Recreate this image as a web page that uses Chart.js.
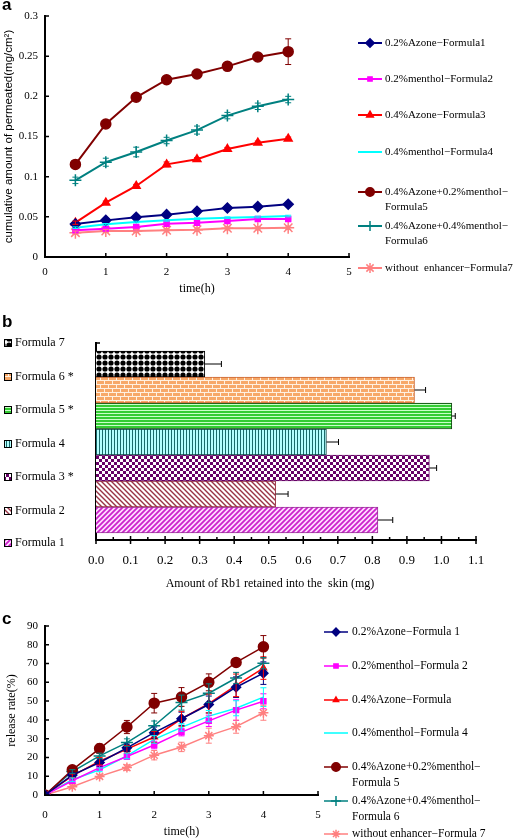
<!DOCTYPE html>
<html>
<head>
<meta charset="utf-8">
<title>Permeation and retention</title>
<script src="https://cdn.jsdelivr.net/npm/chart.js@4.4.1/dist/chart.umd.min.js"></script>
<style>
  html, body { margin: 0; padding: 0; background: #fff; }
  #page { position: relative; width: 520px; height: 840px; overflow: hidden; }
  #page canvas { position: absolute; left: 0; }
  .tag { position: absolute; left: 2px; font: bold 17px "Liberation Sans", Arial, sans-serif; line-height: 1; }
</style>
</head>
<body>
<div id="page">
  <canvas id="chartA" width="520" height="300" style="top:0"></canvas>
  <canvas id="chartB" width="520" height="300" style="top:300px"></canvas>
  <canvas id="chartC" width="520" height="240" style="top:600px"></canvas>
  <div class="tag" style="top:-4px">a</div>
  <div class="tag" style="top:313px">b</div>
  <div class="tag" style="top:610px">c</div>
</div>
<script>
// ---- panel a: cumulative amount permeated (mg/cm2) ----
const timesA = [0.5, 1, 1.5, 2, 2.5, 3, 3.5, 4];
const f1A = [0.041, 0.0456, 0.0494, 0.0527, 0.0568, 0.061, 0.0627, 0.0656];
const f2A = [0.0332, 0.0353, 0.0373, 0.0415, 0.0427, 0.0448, 0.0473, 0.0473];
const f3A = [0.0427, 0.0676, 0.0884, 0.1153, 0.1216, 0.1344, 0.1423, 0.1473];
const f4A = [0.0365, 0.0407, 0.0436, 0.0456, 0.0477, 0.049, 0.0498, 0.051];
const f5A = [0.1153, 0.1656, 0.1988, 0.2207, 0.2278, 0.2373, 0.249, 0.2556];
const f6A = [0.0954, 0.118, 0.1307, 0.145, 0.158, 0.176, 0.1876, 0.196];
const f7A = [0.0303, 0.0324, 0.0324, 0.0332, 0.034, 0.0357, 0.0357, 0.0365];
const f1ErrA = [0.001, 0.001, 0.001, 0.001, 0.001, 0.001, 0.001, 0.001];
const f2ErrA = [0.001, 0.001, 0.001, 0.001, 0.001, 0.001, 0.001, 0.001];
const f3ErrA = [0.002, 0.002, 0.002, 0.003, 0.002, 0.002, 0.002, 0.002];
const f4ErrA = [0.001, 0.001, 0.001, 0.001, 0.001, 0.001, 0.001, 0.001];
const f5ErrA = [0.002, 0.002, 0.002, 0.002, 0.002, 0.003, 0.004, 0.016];
const f6ErrA = [0.004, 0.005, 0.006, 0.004, 0.005, 0.004, 0.004, 0.004];
const f7ErrA = [0.002, 0.002, 0.002, 0.002, 0.002, 0.002, 0.002, 0.002];
const legendA = [
  ['0.2%Azone−Formula1'],
  ['0.2%menthol−Formula2'],
  ['0.4%Azone−Formula3'],
  ['0.4%menthol−Formula4'],
  ['0.4%Azone+0.2%menthol−', 'Formula5'],
  ['0.4%Azone+0.4%menthol−', 'Formula6'],
  ['without  enhancer−Formula7']
];

// ---- panel b: amount of Rb1 retained (mg) ----
const formulasB = ['Formula 1', 'Formula 2', 'Formula 3', 'Formula 4', 'Formula 5', 'Formula 6', 'Formula 7'];
const legendB = ['Formula 1', 'Formula 2', 'Formula 3 *', 'Formula 4', 'Formula 5 *', 'Formula 6 *', 'Formula 7'];
const retainedB = [0.816, 0.520, 0.965, 0.667, 1.030, 0.922, 0.315];
const retainedErrB = [0.043, 0.036, 0.021, 0.035, 0.010, 0.032, 0.048];

// ---- panel c: release rate (%) ----
const timesC = [0, 0.5, 1, 1.5, 2, 2.5, 3, 3.5, 4];
const f1C = [0, 10.6, 17.3, 25.1, 33.2, 40.6, 48.2, 57.4, 64.9];
const f2C = [0, 7.6, 14.6, 20.5, 26.6, 33.5, 39.5, 45.2, 49.9];
const f3C = [0, 10.2, 18.0, 24.4, 30.9, 40.6, 48.7, 58.4, 67.6];
const f4C = [0, 8.1, 13.4, 20.8, 29.6, 36.0, 42.0, 46.2, 52.1];
const f5C = [0, 13.4, 24.7, 36.2, 48.9, 52.2, 60.0, 70.6, 78.9];
const f6C = [0, 12.5, 20.8, 27.9, 36.9, 49.2, 54.2, 62.3, 70.2];
const f7C = [0, 4.4, 9.9, 14.6, 21.2, 25.6, 31.6, 36.4, 43.8];
const f1ErrC = [0, 1, 2, 2, 3, 3.5, 4.5, 5.5, 6];
const f2ErrC = [0, 1, 1, 1.5, 2, 2, 3, 5.5, 4];
const f3ErrC = [0, 1, 2, 2, 3, 4, 5, 6, 6];
const f4ErrC = [0, 1, 1, 1.5, 2, 2, 3, 4, 5];
const f5ErrC = [0, 1, 2.5, 3.5, 5.2, 5, 4.5, 1.5, 6];
const f6ErrC = [0, 1, 1.5, 2, 2.5, 4, 5, 3, 3];
const f7ErrC = [0, 1, 1, 1.5, 2.5, 2.5, 4, 3.5, 4];
const legendC = [
  ['0.2%Azone−Formula 1'],
  ['0.2%menthol−Formula 2'],
  ['0.4%Azone−Formula'],
  ['0.4%menthol−Formula 4'],
  ['0.4%Azone+0.2%menthol−', 'Formula 5'],
  ['0.4%Azone+0.4%menthol−', 'Formula 6'],
  ['without enhancer−Formula 7']
];

const SERIF = '"Liberation Serif", "Times New Roman", serif';
const SANS = '"Liberation Sans", Arial, sans-serif';
const AXIS = { color: '#000', width: 2 };
const NOGRID = { display: false, drawTicks: false, tickLength: 0 };

// one line series with markers and error values
const lineSet = (label, xs, ys, errs, color, style, radius, width) => ({
  label,
  data: xs.map((x, i) => ({ x, y: ys[i] })),
  errors: errs,
  borderColor: color,
  backgroundColor: color,
  pointBackgroundColor: color,
  pointBorderColor: color,
  pointStyle: style,
  pointRadius: radius,
  pointBorderWidth: 1.5,
  borderWidth: width,
  tension: 0
});

// error bars drawn through the value scale
const errorBars = {
  id: 'errorBars',
  afterDatasetsDraw(chart, args, opts) {
    const ctx = chart.ctx;
    const horizontal = chart.options.indexAxis === 'y';
    const vScale = horizontal ? chart.scales.x : chart.scales.y;
    chart.data.datasets.forEach((ds, di) => {
      if (!ds.errors) return;
      const meta = chart.getDatasetMeta(di);
      ctx.save();
      ctx.strokeStyle = opts.color || ds.borderColor;
      ctx.lineWidth = opts.lineWidth || 1;
      ctx.beginPath();
      meta.data.forEach((el, i) => {
        const err = ds.errors[i];
        if (!err) return;
        const v = horizontal ? ds.data[i].x : ds.data[i].y;
        const lo = vScale.getPixelForValue(opts.oneSided ? v : v - err);
        const hi = vScale.getPixelForValue(v + err);
        const c = opts.cap;
        if (horizontal) {
          ctx.moveTo(lo, el.y); ctx.lineTo(hi, el.y);
          ctx.moveTo(hi, el.y - c); ctx.lineTo(hi, el.y + c);
        } else {
          ctx.moveTo(el.x, lo); ctx.lineTo(el.x, hi);
          ctx.moveTo(el.x - c, lo); ctx.lineTo(el.x + c, lo);
          ctx.moveTo(el.x - c, hi); ctx.lineTo(el.x + c, hi);
        }
      });
      ctx.stroke();
      ctx.restore();
    });
  }
};

// short tick marks on the axes (inside / crossing)
const axisTicks = {
  id: 'axisTicks',
  afterDraw(chart, args, opts) {
    const ctx = chart.ctx, xs = chart.scales.x, ys = chart.scales.y, area = chart.chartArea;
    ctx.save();
    ctx.strokeStyle = '#000';
    ctx.lineWidth = opts.width;
    ctx.beginPath();
    xs.ticks.forEach((t, i) => {
      const px = xs.getPixelForTick(i);
      ctx.moveTo(px, area.bottom + (opts.xDown || 0));
      ctx.lineTo(px, area.bottom - opts.xUp);
      if (opts.xMinor && i < xs.ticks.length - 1) {
        const mx = (px + xs.getPixelForTick(i + 1)) / 2;
        ctx.moveTo(mx, area.bottom);
        ctx.lineTo(mx, area.bottom - opts.xMinor);
      }
    });
    if (opts.yIn) {
      ys.ticks.forEach((t, i) => {
        const py = ys.getPixelForTick(i);
        ctx.moveTo(area.left, py);
        ctx.lineTo(area.left + opts.yIn, py);
      });
    }
    if (opts.yTopStub) {
      ctx.moveTo(area.left, area.top);
      ctx.lineTo(area.left + opts.yTopStub, area.top);
    }
    ctx.stroke();
    ctx.restore();
  }
};

// legend with line + marker samples, placed on the right
const lineLegend = {
  id: 'lineLegend',
  afterDraw(chart, args, opts) {
    const ctx = chart.ctx;
    chart.data.datasets.forEach((ds, i) => {
      const y = opts.rows[i];
      ctx.save();
      ctx.strokeStyle = ds.borderColor;
      ctx.lineWidth = ds.borderWidth;
      ctx.beginPath();
      ctx.moveTo(opts.x0, y);
      ctx.lineTo(opts.x1, y);
      ctx.stroke();
      if (ds.pointRadius) {
        ctx.fillStyle = ds.pointBackgroundColor;
        ctx.lineWidth = ds.pointBorderWidth;
        Chart.helpers.drawPoint(ctx, {
          pointStyle: ds.pointStyle, rotation: 0,
          radius: ds.pointRadius * opts.markerScale, borderWidth: ds.pointBorderWidth
        }, (opts.x0 + opts.x1) / 2, y);
      }
      ctx.fillStyle = '#000';
      ctx.font = opts.font;
      ctx.textBaseline = 'middle';
      ctx.textAlign = 'left';
      opts.texts[i].forEach((line, j) => ctx.fillText(line, opts.tx, y + j * opts.lineGap));
      ctx.restore();
    });
  }
};

// pattern-box legend for the bar panel plus its axis caption
const boxLegend = {
  id: 'boxLegend',
  afterDraw(chart, args, opts) {
    const ctx = chart.ctx, ds = chart.data.datasets[0];
    ctx.save();
    ctx.font = opts.font;
    ctx.textBaseline = 'middle';
    ctx.textAlign = 'left';
    opts.order.forEach((idx, k) => {
      const y = opts.rows[k];
      ctx.fillStyle = ds.backgroundColor[idx];
      ctx.fillRect(4, y - 4, 8, 8);
      ctx.strokeStyle = '#000';
      ctx.lineWidth = 1;
      ctx.strokeRect(4.5, y - 3.5, 7, 7);
      ctx.fillStyle = '#000';
      ctx.fillText(opts.texts[idx], 15, y);
    });
    ctx.font = opts.titleFont;
    ctx.textAlign = 'center';
    ctx.fillText(opts.title, opts.titleX, opts.titleY);
    ctx.restore();
  }
};

// ---- hatch patterns for panel b ----
const ctxB = document.getElementById('chartB').getContext('2d');
const makePattern = (w, h, draw) => {
  const tile = document.createElement('canvas');
  tile.width = w; tile.height = h;
  draw(tile.getContext('2d'));
  return ctxB.createPattern(tile, 'repeat');
};
const patternsB = [
  makePattern(5, 5, g => { // Formula 1: magenta "/"
    g.fillStyle = '#ffdcff'; g.fillRect(0, 0, 5, 5);
    g.strokeStyle = '#cc22cc'; g.lineWidth = 1.8; g.beginPath();
    g.moveTo(-1, 6); g.lineTo(6, -1); g.moveTo(-1, 1); g.lineTo(1, -1); g.moveTo(4, 6); g.lineTo(6, 4);
    g.stroke();
  }),
  makePattern(5, 5, g => { // Formula 2: brown "\"
    g.fillStyle = '#ffffff'; g.fillRect(0, 0, 5, 5);
    g.strokeStyle = '#993344'; g.lineWidth = 1.4; g.beginPath();
    g.moveTo(-1, -1); g.lineTo(6, 6); g.moveTo(4, -1); g.lineTo(6, 1); g.moveTo(-1, 4); g.lineTo(1, 6);
    g.stroke();
  }),
  makePattern(6, 6, g => { // Formula 3: purple checks
    g.fillStyle = '#ffffff'; g.fillRect(0, 0, 6, 6);
    g.fillStyle = '#660066'; g.fillRect(0, 0, 3, 3); g.fillRect(3, 3, 3, 3);
  }),
  makePattern(3, 1, g => { // Formula 4: cyan vertical stripes
    g.fillStyle = '#b4ffff'; g.fillRect(0, 0, 3, 1);
    g.fillStyle = '#1a6b6b'; g.fillRect(0, 0, 1, 1);
  }),
  makePattern(1, 3, g => { // Formula 5: green horizontal stripes
    g.fillStyle = '#33cc33'; g.fillRect(0, 0, 1, 2);
    g.fillStyle = '#c8ffc8'; g.fillRect(0, 2, 1, 1);
  }),
  makePattern(8, 8, g => { // Formula 6: orange bricks
    g.fillStyle = '#f7a868'; g.fillRect(0, 0, 8, 8);
    g.fillStyle = '#fff0e0';
    g.fillRect(0, 0, 8, 1); g.fillRect(0, 4, 8, 1);
    g.fillRect(0, 0, 1, 4); g.fillRect(4, 4, 1, 4);
  }),
  makePattern(6, 6, g => { // Formula 7: black dots
    g.fillStyle = '#ffffff'; g.fillRect(0, 0, 6, 6);
    g.fillStyle = '#000000'; g.beginPath(); g.arc(3, 3, 2.6, 0, Math.PI * 2); g.fill();
  })
];
const bordersB = ['#993399', '#993344', '#660066', '#114444', '#114411', '#cc6633', '#000000'];

// ---- panel a ----
new Chart(document.getElementById('chartA'), {
  type: 'line',
  data: {
    datasets: [
      lineSet('Formula1', timesA, f1A, f1ErrA, '#000080', 'rectRot', 5, 2),
      lineSet('Formula2', timesA, f2A, f2ErrA, '#ff00ff', 'rect', 3.5, 2),
      lineSet('Formula3', timesA, f3A, f3ErrA, '#ff0000', 'triangle', 4.5, 2),
      lineSet('Formula4', timesA, f4A, f4ErrA, '#00ffff', 'circle', 0, 2),
      lineSet('Formula5', timesA, f5A, f5ErrA, '#800000', 'circle', 5, 2),
      lineSet('Formula6', timesA, f6A, f6ErrA, '#008080', 'cross', 6, 2),
      lineSet('Formula7', timesA, f7A, f7ErrA, '#ff8080', 'star', 6, 2)
    ]
  },
  options: {
    responsive: false,
    animation: false,
    layout: { padding: { left: 0, top: 16, right: 171, bottom: 0 } },
    plugins: {
      legend: { display: false },
      tooltip: { enabled: false },
      errorBars: { cap: 3, lineWidth: 1 },
      axisTicks: { width: 1.5, xUp: 4, yIn: 4 },
      lineLegend: {
        rows: [43, 79, 115, 152, 192, 226, 268], x0: 358, x1: 382, tx: 385,
        lineGap: 15, markerScale: 0.85, font: '11px ' + SERIF, texts: legendA
      }
    },
    scales: {
      x: {
        type: 'linear', min: 0, max: 5,
        ticks: { stepSize: 1, padding: 9, color: '#000', font: { family: SERIF, size: 11 } },
        grid: NOGRID,
        border: AXIS,
        title: { display: true, text: 'time(h)', color: '#000', font: { family: SERIF, size: 12 }, padding: { top: 0, bottom: 4 } },
        afterFit: s => { s.height = 43; }
      },
      y: {
        min: 0, max: 0.3,
        ticks: { stepSize: 0.05, padding: 7, color: '#000', font: { family: SERIF, size: 11 }, callback: v => String(+v.toFixed(2)) },
        grid: NOGRID,
        border: AXIS,
        title: { display: true, text: 'cumulative amount of permeated(mg/cm²)', color: '#000', font: { family: SANS, size: 11.5 }, padding: { top: 1.5, bottom: 0 } },
        afterFit: s => { s.width = 45; }
      }
    }
  },
  plugins: [errorBars, axisTicks, lineLegend]
});

// ---- panel b ----
new Chart(ctxB, {
  type: 'bar',
  data: {
    datasets: [{
      label: 'Rb1 retained',
      data: formulasB.map((f, i) => ({ x: retainedB[i], y: i })),
      errors: retainedErrB,
      backgroundColor: patternsB,
      borderColor: bordersB,
      borderWidth: 1,
      barPercentage: 1,
      categoryPercentage: 1
    }]
  },
  options: {
    indexAxis: 'y',
    responsive: false,
    animation: false,
    layout: { padding: { left: 0, top: 43, right: 44, bottom: 0 } },
    plugins: {
      legend: { display: false },
      tooltip: { enabled: false },
      errorBars: { cap: 3, lineWidth: 1, oneSided: true, color: '#000' },
      axisTicks: { width: 1.5, xUp: 4, xDown: 4, xMinor: 3, yTopStub: 4 },
      boxLegend: {
        rows: [43, 77, 110, 144, 177, 211, 243], order: [6, 5, 4, 3, 2, 1, 0],
        texts: legendB, font: '12px ' + SERIF,
        title: 'Amount of Rb1 retained into the  skin (mg)', titleFont: '12px ' + SERIF, titleX: 270, titleY: 284
      }
    },
    scales: {
      x: {
        type: 'linear', min: 0, max: 1.1,
        ticks: { stepSize: 0.1, padding: 13, color: '#000', font: { family: SERIF, size: 13 }, callback: v => v.toFixed(1) },
        grid: NOGRID,
        border: AXIS,
        afterFit: s => { s.height = 60; }
      },
      y: {
        type: 'linear', min: -0.769, max: 6.808, offset: false,
        ticks: { display: false, stepSize: 1, includeBounds: false },
        grid: NOGRID,
        border: AXIS,
        afterFit: s => { s.width = 96; }
      }
    }
  },
  plugins: [errorBars, axisTicks, boxLegend]
});

// ---- panel c ----
new Chart(document.getElementById('chartC'), {
  type: 'line',
  data: {
    datasets: [
      lineSet('Formula 1', timesC, f1C, f1ErrC, '#000080', 'rectRot', 4.5, 1.5),
      lineSet('Formula 2', timesC, f2C, f2ErrC, '#ff00ff', 'rect', 3.5, 1.5),
      lineSet('Formula 3', timesC, f3C, f3ErrC, '#ff0000', 'triangle', 3.5, 1.5),
      lineSet('Formula 4', timesC, f4C, f4ErrC, '#00ffff', 'circle', 0, 1.5),
      lineSet('Formula 5', timesC, f5C, f5ErrC, '#800000', 'circle', 5, 1.5),
      lineSet('Formula 6', timesC, f6C, f6ErrC, '#008080', 'cross', 6, 1.5),
      lineSet('Formula 7', timesC, f7C, f7ErrC, '#ff8080', 'star', 5, 1.5)
    ]
  },
  options: {
    responsive: false,
    animation: false,
    layout: { padding: { left: 0, top: 26, right: 202, bottom: 0 } },
    plugins: {
      legend: { display: false },
      tooltip: { enabled: false },
      errorBars: { cap: 3, lineWidth: 1 },
      axisTicks: { width: 1.5, xUp: 4, yIn: 4 },
      lineLegend: {
        rows: [32, 66, 100, 133, 167, 201, 234], x0: 324, x1: 348, tx: 352,
        lineGap: 16, markerScale: 0.85, font: '11.5px ' + SERIF, texts: legendC
      }
    },
    scales: {
      x: {
        type: 'linear', min: 0, max: 5,
        ticks: { stepSize: 1, padding: 14, color: '#000', font: { family: SERIF, size: 11 } },
        grid: NOGRID,
        border: AXIS,
        title: { display: true, text: 'time(h)', color: '#000', font: { family: SERIF, size: 12 }, padding: { top: 0, bottom: 1 } },
        afterFit: s => { s.height = 45; }
      },
      y: {
        min: 0, max: 90,
        ticks: { stepSize: 10, padding: 7, color: '#000', font: { family: SERIF, size: 11 } },
        grid: NOGRID,
        border: AXIS,
        title: { display: true, text: 'release rate(%)', color: '#000', font: { family: SERIF, size: 12 }, padding: { top: 4.8, bottom: 0 } },
        afterFit: s => { s.width = 45; }
      }
    }
  },
  plugins: [errorBars, axisTicks, lineLegend]
});
</script>
</body>
</html>
